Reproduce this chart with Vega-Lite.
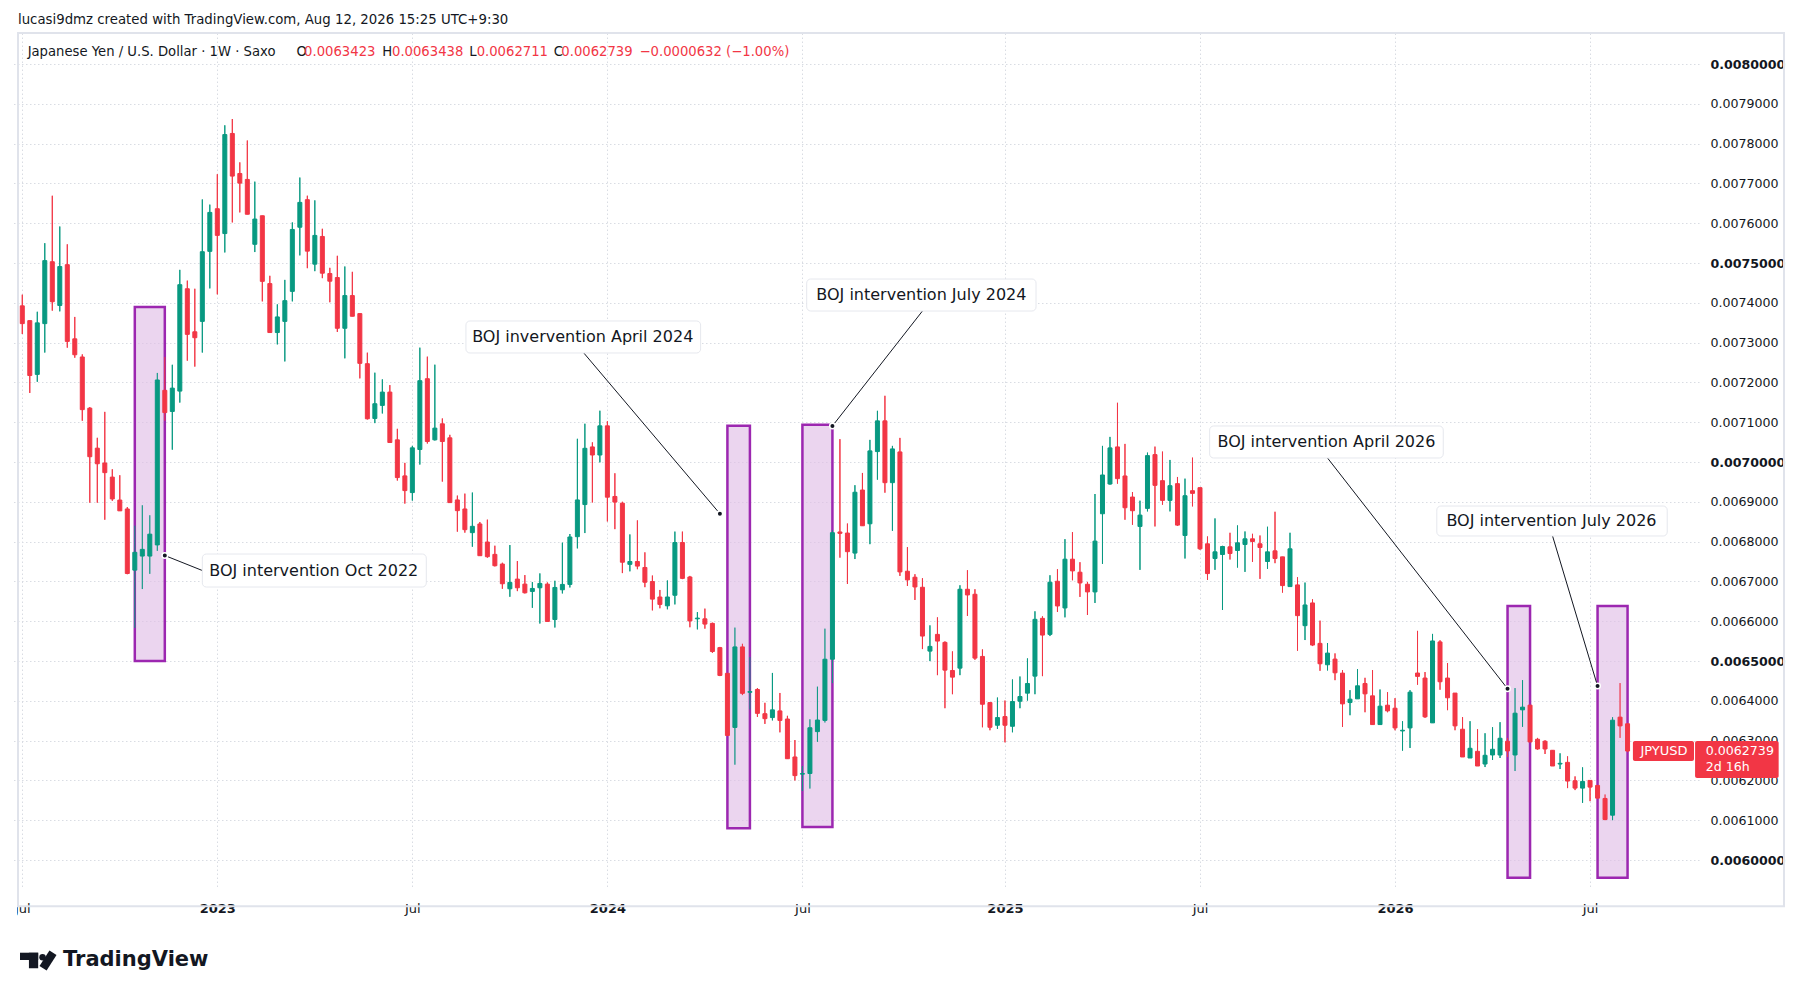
{
  "$schema": "https://vega.github.io/schema/vega-lite/v6.json",
  "description": "JPYUSD weekly candles with BOJ intervention boxes, TradingView style.",
  "width": 1686,
  "height": 854,
  "autosize": {"type": "none"},
  "padding": {"left": 13, "top": 33, "right": 105, "bottom": 113},
  "background": "#ffffff",
  "config": {"view": {"stroke": null}, "font": "DejaVu Sans"},
  "datasets": {
    "candles": [
      {"d":"2022-07-04","o":0.0073924,"h":0.0074204,"l":0.0073216,"c":0.0073477},
      {"d":"2022-07-11","o":0.0073552,"h":0.0073552,"l":0.0071735,"c":0.0072173},
      {"d":"2022-07-18","o":0.0072201,"h":0.0073775,"l":0.0072015,"c":0.0073496},
      {"d":"2022-07-25","o":0.0073477,"h":0.0075498,"l":0.0072750,"c":0.0075060},
      {"d":"2022-08-01","o":0.0075032,"h":0.0076690,"l":0.0073803,"c":0.0074027},
      {"d":"2022-08-08","o":0.0073933,"h":0.0075917,"l":0.0073785,"c":0.0074911},
      {"d":"2022-08-15","o":0.0074958,"h":0.0075470,"l":0.0072872,"c":0.0073030},
      {"d":"2022-08-22","o":0.0073095,"h":0.0073645,"l":0.0072620,"c":0.0072695},
      {"d":"2022-08-29","o":0.0072639,"h":0.0072704,"l":0.0071037,"c":0.0071316},
      {"d":"2022-09-05","o":0.0071353,"h":0.0071381,"l":0.0068978,"c":0.0070133},
      {"d":"2022-09-12","o":0.0070348,"h":0.0070608,"l":0.0068978,"c":0.0069956},
      {"d":"2022-09-19","o":0.0069975,"h":0.0071260,"l":0.0068550,"c":0.0069733},
      {"d":"2022-09-26","o":0.0069621,"h":0.0069817,"l":0.0069025,"c":0.0069072},
      {"d":"2022-10-03","o":0.0069044,"h":0.0069668,"l":0.0068773,"c":0.0068773},
      {"d":"2022-10-10","o":0.0068820,"h":0.0068867,"l":0.0067181,"c":0.0067199},
      {"d":"2022-10-17","o":0.0067283,"h":0.0068401,"l":0.0065830,"c":0.0067731},
      {"d":"2022-10-24","o":0.0067637,"h":0.0068913,"l":0.0066808,"c":0.0067805},
      {"d":"2022-10-31","o":0.0067637,"h":0.0068662,"l":0.0067190,"c":0.0068187},
      {"d":"2022-11-07","o":0.0067917,"h":0.0072238,"l":0.0067768,"c":0.0072061},
      {"d":"2022-11-14","o":0.0071801,"h":0.0072639,"l":0.0071037,"c":0.0071242},
      {"d":"2022-11-21","o":0.0071270,"h":0.0072443,"l":0.0070310,"c":0.0071856},
      {"d":"2022-11-28","o":0.0071782,"h":0.0074828,"l":0.0071493,"c":0.0074455},
      {"d":"2022-12-05","o":0.0074353,"h":0.0074557,"l":0.0072546,"c":0.0073207},
      {"d":"2022-12-12","o":0.0073272,"h":0.0074353,"l":0.0072397,"c":0.0073123},
      {"d":"2022-12-19","o":0.0073533,"h":0.0076597,"l":0.0072750,"c":0.0075284},
      {"d":"2022-12-26","o":0.0075293,"h":0.0076467,"l":0.0074362,"c":0.0076271},
      {"d":"2023-01-02","o":0.0076364,"h":0.0077231,"l":0.0074213,"c":0.0075694},
      {"d":"2023-01-09","o":0.0075740,"h":0.0078460,"l":0.0075265,"c":0.0078227},
      {"d":"2023-01-16","o":0.0078255,"h":0.0078618,"l":0.0076020,"c":0.0077184},
      {"d":"2023-01-23","o":0.0077249,"h":0.0077529,"l":0.0076271,"c":0.0077007},
      {"d":"2023-01-30","o":0.0077100,"h":0.0078078,"l":0.0076225,"c":0.0076225},
      {"d":"2023-02-06","o":0.0075470,"h":0.0077044,"l":0.0075275,"c":0.0076104},
      {"d":"2023-02-13","o":0.0076187,"h":0.0076187,"l":0.0074036,"c":0.0074539},
      {"d":"2023-02-20","o":0.0074483,"h":0.0074679,"l":0.0073253,"c":0.0073253},
      {"d":"2023-02-27","o":0.0073253,"h":0.0073961,"l":0.0072955,"c":0.0073645},
      {"d":"2023-03-06","o":0.0073533,"h":0.0074576,"l":0.0072527,"c":0.0074054},
      {"d":"2023-03-13","o":0.0074287,"h":0.0076020,"l":0.0074036,"c":0.0075843},
      {"d":"2023-03-20","o":0.0075899,"h":0.0077147,"l":0.0075191,"c":0.0076523},
      {"d":"2023-03-27","o":0.0076591,"h":0.0076691,"l":0.0074870,"c":0.0075298},
      {"d":"2023-04-03","o":0.0074971,"h":0.0076574,"l":0.0074795,"c":0.0075693},
      {"d":"2023-04-10","o":0.0075667,"h":0.0075860,"l":0.0074619,"c":0.0074744},
      {"d":"2023-04-17","o":0.0074736,"h":0.0074879,"l":0.0074014,"c":0.0074543},
      {"d":"2023-04-24","o":0.0074635,"h":0.0075181,"l":0.0073268,"c":0.0073360},
      {"d":"2023-05-01","o":0.0073360,"h":0.0074912,"l":0.0072605,"c":0.0074182},
      {"d":"2023-05-08","o":0.0074182,"h":0.0074778,"l":0.0073662,"c":0.0073662},
      {"d":"2023-05-15","o":0.0073729,"h":0.0073729,"l":0.0072101,"c":0.0072479},
      {"d":"2023-05-22","o":0.0072470,"h":0.0072747,"l":0.0071069,"c":0.0071086},
      {"d":"2023-05-29","o":0.0071094,"h":0.0072244,"l":0.0070977,"c":0.0071464},
      {"d":"2023-06-05","o":0.0071422,"h":0.0072076,"l":0.0071220,"c":0.0071757},
      {"d":"2023-06-12","o":0.0071757,"h":0.0071933,"l":0.0070490,"c":0.0070490},
      {"d":"2023-06-19","o":0.0070557,"h":0.0070834,"l":0.0069534,"c":0.0069609},
      {"d":"2023-06-26","o":0.0069651,"h":0.0069978,"l":0.0068955,"c":0.0069282},
      {"d":"2023-07-03","o":0.0069232,"h":0.0070406,"l":0.0069030,"c":0.0070356},
      {"d":"2023-07-10","o":0.0070314,"h":0.0072873,"l":0.0069936,"c":0.0072043},
      {"d":"2023-07-17","o":0.0072093,"h":0.0072647,"l":0.0070465,"c":0.0070515},
      {"d":"2023-07-24","o":0.0070557,"h":0.0072445,"l":0.0070541,"c":0.0070851},
      {"d":"2023-07-31","o":0.0070960,"h":0.0071094,"l":0.0069508,"c":0.0070515},
      {"d":"2023-08-07","o":0.0070608,"h":0.0070683,"l":0.0068980,"c":0.0068980},
      {"d":"2023-08-14","o":0.0069047,"h":0.0069156,"l":0.0068250,"c":0.0068778},
      {"d":"2023-08-21","o":0.0068820,"h":0.0069206,"l":0.0068225,"c":0.0068300},
      {"d":"2023-08-28","o":0.0068225,"h":0.0069232,"l":0.0067872,"c":0.0068384},
      {"d":"2023-09-04","o":0.0068443,"h":0.0068493,"l":0.0067646,"c":0.0067646},
      {"d":"2023-09-11","o":0.0067990,"h":0.0068552,"l":0.0067595,"c":0.0067621},
      {"d":"2023-09-18","o":0.0067679,"h":0.0067897,"l":0.0067377,"c":0.0067394},
      {"d":"2023-09-25","o":0.0067436,"h":0.0067469,"l":0.0066815,"c":0.0066941},
      {"d":"2023-10-02","o":0.0066815,"h":0.0067914,"l":0.0066614,"c":0.0066974},
      {"d":"2023-10-09","o":0.0067058,"h":0.0067511,"l":0.0066756,"c":0.0066840},
      {"d":"2023-10-16","o":0.0066932,"h":0.0067159,"l":0.0066698,"c":0.0066714},
      {"d":"2023-10-23","o":0.0066748,"h":0.0066983,"l":0.0066337,"c":0.0066823},
      {"d":"2023-10-30","o":0.0066840,"h":0.0067201,"l":0.0065942,"c":0.0066949},
      {"d":"2023-11-06","o":0.0066932,"h":0.0066974,"l":0.0065993,"c":0.0065993},
      {"d":"2023-11-13","o":0.0066043,"h":0.0067016,"l":0.0065842,"c":0.0066848},
      {"d":"2023-11-20","o":0.0066790,"h":0.0067973,"l":0.0066698,"c":0.0066924},
      {"d":"2023-11-27","o":0.0066924,"h":0.0068191,"l":0.0066848,"c":0.0068116},
      {"d":"2023-12-04","o":0.0068124,"h":0.0070583,"l":0.0067830,"c":0.0069047},
      {"d":"2023-12-11","o":0.0068931,"h":0.0070962,"l":0.0068215,"c":0.0070344},
      {"d":"2023-12-18","o":0.0070379,"h":0.0070494,"l":0.0068984,"c":0.0070176},
      {"d":"2023-12-25","o":0.0070176,"h":0.0071289,"l":0.0069991,"c":0.0070909},
      {"d":"2024-01-01","o":0.0070909,"h":0.0071024,"l":0.0068507,"c":0.0069116},
      {"d":"2024-01-08","o":0.0069134,"h":0.0069717,"l":0.0068313,"c":0.0068993},
      {"d":"2024-01-15","o":0.0068966,"h":0.0069001,"l":0.0067209,"c":0.0067482},
      {"d":"2024-01-22","o":0.0067429,"h":0.0068180,"l":0.0067253,"c":0.0067500},
      {"d":"2024-01-29","o":0.0067500,"h":0.0068533,"l":0.0067306,"c":0.0067385},
      {"d":"2024-02-05","o":0.0067350,"h":0.0067730,"l":0.0066855,"c":0.0066979},
      {"d":"2024-02-12","o":0.0066997,"h":0.0067147,"l":0.0066272,"c":0.0066555},
      {"d":"2024-02-19","o":0.0066608,"h":0.0066785,"l":0.0066325,"c":0.0066422},
      {"d":"2024-02-26","o":0.0066387,"h":0.0067023,"l":0.0066299,"c":0.0066608},
      {"d":"2024-03-04","o":0.0066652,"h":0.0068251,"l":0.0066422,"c":0.0067977},
      {"d":"2024-03-11","o":0.0067977,"h":0.0068251,"l":0.0067058,"c":0.0067076},
      {"d":"2024-03-18","o":0.0067111,"h":0.0067138,"l":0.0065848,"c":0.0066007},
      {"d":"2024-03-25","o":0.0066060,"h":0.0066228,"l":0.0065795,"c":0.0066078},
      {"d":"2024-04-01","o":0.0066060,"h":0.0066316,"l":0.0065813,"c":0.0065928},
      {"d":"2024-04-08","o":0.0065946,"h":0.0065963,"l":0.0065204,"c":0.0065239},
      {"d":"2024-04-15","o":0.0065336,"h":0.0065354,"l":0.0064621,"c":0.0064638},
      {"d":"2024-04-22","o":0.0064691,"h":0.0064691,"l":0.0063129,"c":0.0063129},
      {"d":"2024-04-29","o":0.0063331,"h":0.0065840,"l":0.0062395,"c":0.0065354},
      {"d":"2024-05-06","o":0.0065354,"h":0.0065433,"l":0.0064144,"c":0.0064188},
      {"d":"2024-05-13","o":0.0064214,"h":0.0065098,"l":0.0063782,"c":0.0064232},
      {"d":"2024-05-20","o":0.0064285,"h":0.0064320,"l":0.0063596,"c":0.0063685},
      {"d":"2024-05-27","o":0.0063676,"h":0.0063950,"l":0.0063420,"c":0.0063552},
      {"d":"2024-06-03","o":0.0063579,"h":0.0064700,"l":0.0063508,"c":0.0063773},
      {"d":"2024-06-10","o":0.0063746,"h":0.0064197,"l":0.0063208,"c":0.0063508},
      {"d":"2024-06-17","o":0.0063543,"h":0.0063623,"l":0.0062545,"c":0.0062545},
      {"d":"2024-06-24","o":0.0062589,"h":0.0063014,"l":0.0061998,"c":0.0062121},
      {"d":"2024-07-01","o":0.0062157,"h":0.0062360,"l":0.0061733,"c":0.0062174},
      {"d":"2024-07-08","o":0.0062174,"h":0.0063535,"l":0.0061795,"c":0.0063323},
      {"d":"2024-07-15","o":0.0063226,"h":0.0064356,"l":0.0062969,"c":0.0063517},
      {"d":"2024-07-22","o":0.0063508,"h":0.0065813,"l":0.0063455,"c":0.0065045},
      {"d":"2024-07-29","o":0.0065045,"h":0.0068286,"l":0.0064444,"c":0.0068224},
      {"d":"2024-08-05","o":0.0068242,"h":0.0070574,"l":0.0067597,"c":0.0068207},
      {"d":"2024-08-12","o":0.0068215,"h":0.0068454,"l":0.0066935,"c":0.0067747},
      {"d":"2024-08-19","o":0.0067712,"h":0.0069417,"l":0.0067562,"c":0.0069240},
      {"d":"2024-08-26","o":0.0069296,"h":0.0069725,"l":0.0068398,"c":0.0068398},
      {"d":"2024-09-02","o":0.0068448,"h":0.0070556,"l":0.0067936,"c":0.0070279},
      {"d":"2024-09-09","o":0.0070262,"h":0.0071286,"l":0.0069557,"c":0.0071034},
      {"d":"2024-09-16","o":0.0071034,"h":0.0071664,"l":0.0069229,"c":0.0069481},
      {"d":"2024-09-23","o":0.0069481,"h":0.0070405,"l":0.0068272,"c":0.0070329},
      {"d":"2024-09-30","o":0.0070253,"h":0.0070606,"l":0.0067138,"c":0.0067239},
      {"d":"2024-10-07","o":0.0067256,"h":0.0067861,"l":0.0066887,"c":0.0067038},
      {"d":"2024-10-14","o":0.0067105,"h":0.0067181,"l":0.0066534,"c":0.0066861},
      {"d":"2024-10-21","o":0.0066853,"h":0.0067080,"l":0.0065300,"c":0.0065627},
      {"d":"2024-10-28","o":0.0065249,"h":0.0065896,"l":0.0064998,"c":0.0065367},
      {"d":"2024-11-04","o":0.0065669,"h":0.0066097,"l":0.0064645,"c":0.0065501},
      {"d":"2024-11-11","o":0.0065468,"h":0.0065493,"l":0.0063814,"c":0.0064771},
      {"d":"2024-11-18","o":0.0064762,"h":0.0065241,"l":0.0064166,"c":0.0064595},
      {"d":"2024-11-25","o":0.0064821,"h":0.0066903,"l":0.0064645,"c":0.0066803},
      {"d":"2024-12-02","o":0.0066803,"h":0.0067281,"l":0.0066131,"c":0.0066660},
      {"d":"2024-12-09","o":0.0066677,"h":0.0066803,"l":0.0065031,"c":0.0065073},
      {"d":"2024-12-16","o":0.0065115,"h":0.0065291,"l":0.0063335,"c":0.0063914},
      {"d":"2024-12-23","o":0.0063956,"h":0.0063956,"l":0.0063260,"c":0.0063335},
      {"d":"2024-12-30","o":0.0063386,"h":0.0064082,"l":0.0063293,"c":0.0063579},
      {"d":"2025-01-06","o":0.0063604,"h":0.0064007,"l":0.0062957,"c":0.0063386},
      {"d":"2025-01-13","o":0.0063360,"h":0.0064536,"l":0.0063209,"c":0.0063982},
      {"d":"2025-01-20","o":0.0063990,"h":0.0064611,"l":0.0063814,"c":0.0064108},
      {"d":"2025-01-27","o":0.0064192,"h":0.0065065,"l":0.0064007,"c":0.0064435},
      {"d":"2025-02-03","o":0.0064620,"h":0.0066249,"l":0.0064166,"c":0.0066047},
      {"d":"2025-02-10","o":0.0066072,"h":0.0066123,"l":0.0064620,"c":0.0065652},
      {"d":"2025-02-17","o":0.0065669,"h":0.0067155,"l":0.0065627,"c":0.0066979},
      {"d":"2025-02-24","o":0.0067004,"h":0.0067306,"l":0.0066232,"c":0.0066383},
      {"d":"2025-03-03","o":0.0066333,"h":0.0068062,"l":0.0066097,"c":0.0067558},
      {"d":"2025-03-10","o":0.0067558,"h":0.0068238,"l":0.0067029,"c":0.0067264},
      {"d":"2025-03-17","o":0.0067231,"h":0.0067483,"l":0.0066610,"c":0.0066962},
      {"d":"2025-03-24","o":0.0066929,"h":0.0066987,"l":0.0066156,"c":0.0066736},
      {"d":"2025-03-31","o":0.0066736,"h":0.0069196,"l":0.0066458,"c":0.0068012},
      {"d":"2025-04-07","o":0.0068700,"h":0.0070405,"l":0.0067441,"c":0.0069674},
      {"d":"2025-04-14","o":0.0069447,"h":0.0070631,"l":0.0069431,"c":0.0070354},
      {"d":"2025-04-21","o":0.0070379,"h":0.0071488,"l":0.0069456,"c":0.0069582},
      {"d":"2025-04-28","o":0.0069649,"h":0.0070455,"l":0.0068549,"c":0.0068851},
      {"d":"2025-05-05","o":0.0069120,"h":0.0069246,"l":0.0068423,"c":0.0068776},
      {"d":"2025-05-12","o":0.0068381,"h":0.0069028,"l":0.0067290,"c":0.0068666},
      {"d":"2025-05-19","o":0.0068834,"h":0.0070236,"l":0.0068759,"c":0.0070161},
      {"d":"2025-05-26","o":0.0070186,"h":0.0070387,"l":0.0068381,"c":0.0069414},
      {"d":"2025-06-02","o":0.0069531,"h":0.0070262,"l":0.0068927,"c":0.0069036},
      {"d":"2025-06-09","o":0.0069036,"h":0.0070052,"l":0.0068759,"c":0.0069405},
      {"d":"2025-06-16","o":0.0069456,"h":0.0069624,"l":0.0068398,"c":0.0068415},
      {"d":"2025-06-23","o":0.0068154,"h":0.0069582,"l":0.0067575,"c":0.0069153},
      {"d":"2025-06-30","o":0.0069279,"h":0.0070110,"l":0.0068885,"c":0.0069212},
      {"d":"2025-07-07","o":0.0069355,"h":0.0069355,"l":0.0067793,"c":0.0067819},
      {"d":"2025-07-14","o":0.0067945,"h":0.0068129,"l":0.0067038,"c":0.0067197},
      {"d":"2025-07-21","o":0.0067575,"h":0.0068583,"l":0.0067290,"c":0.0067743},
      {"d":"2025-07-28","o":0.0067676,"h":0.0067894,"l":0.0066282,"c":0.0067877},
      {"d":"2025-08-04","o":0.0067869,"h":0.0068222,"l":0.0067550,"c":0.0067701},
      {"d":"2025-08-11","o":0.0067777,"h":0.0068406,"l":0.0067348,"c":0.0067970},
      {"d":"2025-08-18","o":0.0067928,"h":0.0068255,"l":0.0067239,"c":0.0068070},
      {"d":"2025-08-25","o":0.0068070,"h":0.0068196,"l":0.0067491,"c":0.0068003},
      {"d":"2025-09-01","o":0.0067945,"h":0.0068154,"l":0.0067063,"c":0.0067852},
      {"d":"2025-09-08","o":0.0067500,"h":0.0068373,"l":0.0067315,"c":0.0067743},
      {"d":"2025-09-15","o":0.0067768,"h":0.0068750,"l":0.0067458,"c":0.0067575},
      {"d":"2025-09-22","o":0.0067617,"h":0.0067617,"l":0.0066719,"c":0.0066895},
      {"d":"2025-09-29","o":0.0066870,"h":0.0068222,"l":0.0066870,"c":0.0067819},
      {"d":"2025-10-06","o":0.0066912,"h":0.0067105,"l":0.0065258,"c":0.0066140},
      {"d":"2025-10-13","o":0.0065888,"h":0.0066971,"l":0.0065527,"c":0.0066408},
      {"d":"2025-10-20","o":0.0066459,"h":0.0066551,"l":0.0065376,"c":0.0065401},
      {"d":"2025-10-27","o":0.0065443,"h":0.0066014,"l":0.0064754,"c":0.0064931},
      {"d":"2025-11-03","o":0.0064906,"h":0.0065451,"l":0.0064763,"c":0.0065199},
      {"d":"2025-11-10","o":0.0065048,"h":0.0065191,"l":0.0064519,"c":0.0064704},
      {"d":"2025-11-17","o":0.0064696,"h":0.0064771,"l":0.0063344,"c":0.0063923},
      {"d":"2025-11-24","o":0.0063957,"h":0.0064267,"l":0.0063638,"c":0.0064041},
      {"d":"2025-12-01","o":0.0064049,"h":0.0064796,"l":0.0064049,"c":0.0064377},
      {"d":"2025-12-08","o":0.0064435,"h":0.0064578,"l":0.0063713,"c":0.0064175},
      {"d":"2025-12-15","o":0.0064125,"h":0.0064771,"l":0.0063403,"c":0.0063403},
      {"d":"2025-12-22","o":0.0063403,"h":0.0064284,"l":0.0063403,"c":0.0063865},
      {"d":"2025-12-29","o":0.0063890,"h":0.0064217,"l":0.0063713,"c":0.0063747},
      {"d":"2026-01-05","o":0.0063814,"h":0.0064066,"l":0.0063260,"c":0.0063319},
      {"d":"2026-01-12","o":0.0063243,"h":0.0063487,"l":0.0062748,"c":0.0063260},
      {"d":"2026-01-19","o":0.0063319,"h":0.0064267,"l":0.0062815,"c":0.0064217},
      {"d":"2026-01-26","o":0.0064698,"h":0.0065757,"l":0.0064404,"c":0.0064614},
      {"d":"2026-02-02","o":0.0064572,"h":0.0064723,"l":0.0063572,"c":0.0063597},
      {"d":"2026-02-09","o":0.0063446,"h":0.0065681,"l":0.0063446,"c":0.0065504},
      {"d":"2026-02-16","o":0.0065479,"h":0.0065521,"l":0.0064278,"c":0.0064479},
      {"d":"2026-02-23","o":0.0064572,"h":0.0064950,"l":0.0063765,"c":0.0064076},
      {"d":"2026-03-02","o":0.0064194,"h":0.0064194,"l":0.0063261,"c":0.0063370},
      {"d":"2026-03-09","o":0.0063286,"h":0.0063589,"l":0.0062589,"c":0.0062589},
      {"d":"2026-03-16","o":0.0062563,"h":0.0063488,"l":0.0062563,"c":0.0062807},
      {"d":"2026-03-23","o":0.0062731,"h":0.0063286,"l":0.0062362,"c":0.0062362},
      {"d":"2026-03-30","o":0.0062412,"h":0.0063185,"l":0.0062336,"c":0.0062631},
      {"d":"2026-04-06","o":0.0062639,"h":0.0063336,"l":0.0062513,"c":0.0062782},
      {"d":"2026-04-13","o":0.0062639,"h":0.0063463,"l":0.0062563,"c":0.0063059},
      {"d":"2026-04-20","o":0.0062984,"h":0.0063068,"l":0.0062589,"c":0.0062740},
      {"d":"2026-04-27","o":0.0062639,"h":0.0064320,"l":0.0062236,"c":0.0063689},
      {"d":"2026-05-04","o":0.0063773,"h":0.0064521,"l":0.0063345,"c":0.0063841},
      {"d":"2026-05-11","o":0.0063891,"h":0.0063891,"l":0.0062967,"c":0.0062967},
      {"d":"2026-05-18","o":0.0063034,"h":0.0063068,"l":0.0062773,"c":0.0062790},
      {"d":"2026-05-25","o":0.0062984,"h":0.0063009,"l":0.0062664,"c":0.0062790},
      {"d":"2026-06-01","o":0.0062757,"h":0.0062757,"l":0.0062362,"c":0.0062362},
      {"d":"2026-06-08","o":0.0062412,"h":0.0062681,"l":0.0062286,"c":0.0062429},
      {"d":"2026-06-15","o":0.0062454,"h":0.0062605,"l":0.0061807,"c":0.0061984},
      {"d":"2026-06-22","o":0.0061992,"h":0.0062101,"l":0.0061757,"c":0.0061807},
      {"d":"2026-06-29","o":0.0061807,"h":0.0062328,"l":0.0061437,"c":0.0061975},
      {"d":"2026-07-06","o":0.0062000,"h":0.0062000,"l":0.0061479,"c":0.0061832},
      {"d":"2026-07-13","o":0.0061874,"h":0.0061874,"l":0.0061538,"c":0.0061555},
      {"d":"2026-07-20","o":0.0061547,"h":0.0061647,"l":0.0061000,"c":0.0061017},
      {"d":"2026-07-27","o":0.0061126,"h":0.0063589,"l":0.0061000,"c":0.0063513},
      {"d":"2026-08-03","o":0.0063589,"h":0.0064446,"l":0.0063068,"c":0.0063370},
      {"d":"2026-08-10","o":0.0063423,"h":0.0063438,"l":0.0062711,"c":0.0062739}
    ],
    "boxes": [
      {"x1":"2022-10-17","x2":"2022-11-14","y1":0.0073894,"y2":0.0065001},
      {"x1":"2024-04-22","x2":"2024-05-13","y1":0.0070909,"y2":0.0060796},
      {"x1":"2024-07-01","x2":"2024-07-29","y1":0.0070936,"y2":0.0060832},
      {"x1":"2026-04-20","x2":"2026-05-11","y1":0.0066382,"y2":0.0059556},
      {"x1":"2026-07-13","x2":"2026-08-10","y1":0.0066382,"y2":0.0059556}
    ],
    "labels": [
      {"t":"BOJ intervention Oct 2022","tx":"2023-04-02","ty":0.0067274,"x1":"2022-12-19","x2":"2023-07-16","y1":0.0067688,"y2":0.0066859},
      {"t":"BOJ invervention April 2024","tx":"2023-12-09","ty":0.0073141,"x1":"2023-08-22","x2":"2024-03-28","y1":0.0073543,"y2":0.0072739},
      {"t":"BOJ intervention July 2024","tx":"2024-10-20","ty":0.0074196,"x1":"2024-07-05","x2":"2025-02-04","y1":0.0074598,"y2":0.0073794},
      {"t":"BOJ intervention April 2026","tx":"2025-11-02","ty":0.0070503,"x1":"2025-07-16","x2":"2026-02-19","y1":0.0070905,"y2":0.0070101},
      {"t":"BOJ intervention July 2026","tx":"2026-05-31","ty":0.0068518,"x1":"2026-02-13","x2":"2026-09-16","y1":0.0068894,"y2":0.0068141}
    ],
    "pointers": [
      {"x1":"2022-12-19","y1":0.0067274,"x2":"2022-11-14","y2":0.0067651},
      {"x1":"2023-12-10","y1":0.0072739,"x2":"2024-04-15","y2":0.0068701},
      {"x1":"2024-10-21","y1":0.0073794,"x2":"2024-07-29","y2":0.0070905},
      {"x1":"2025-11-03","y1":0.0070101,"x2":"2026-04-20","y2":0.0064304},
      {"x1":"2026-06-01","y1":0.0068141,"x2":"2026-07-13","y2":0.0064372}
    ]
  },
  "layer": [
    {
      "data": {"name": "candles"},
      "mark": {"type": "rule", "strokeWidth": 1},
      "encoding": {
        "x": {
          "field": "d", "type": "temporal", "title": null,
          "scale": {"type": "utc", "domain": [{"year": 2022, "month": 6, "date": 30, "utc": true}, {"year": 2026, "month": 10, "date": 11, "utc": true}]},
          "axis": {
            "title": null, "zindex": 0,
            "values": [
              {"year": 2022, "month": 7, "date": 4, "utc": true},
              {"year": 2023, "month": 1, "date": 2, "utc": true},
              {"year": 2023, "month": 7, "date": 3, "utc": true},
              {"year": 2024, "month": 1, "date": 1, "utc": true},
              {"year": 2024, "month": 7, "date": 1, "utc": true},
              {"year": 2025, "month": 1, "date": 6, "utc": true},
              {"year": 2025, "month": 7, "date": 7, "utc": true},
              {"year": 2026, "month": 1, "date": 5, "utc": true},
              {"year": 2026, "month": 7, "date": 6, "utc": true}
            ],
            "labelExpr": "utcmonth(datum.value) == 0 ? utcFormat(datum.value, '%Y') : 'Jul'",
            "labelFontWeight": {"condition": {"test": "utcmonth(datum.value) == 0", "value": "bold"}, "value": "normal"},
            "labelFont": "DejaVu Sans", "labelFontSize": 13, "labelColor": "#131722",
            "labelBaseline": "middle", "labelPadding": 21, "labelFlush": false, "labelOverlap": false,
            "domain": false, "ticks": false, "tickSize": 0,
            "grid": true, "gridColor": "#D9DCE3", "gridDash": [1.5, 2.5], "gridWidth": 1
          }
        },
        "y": {
          "field": "l", "type": "quantitative", "title": null,
          "scale": {"domain": [0.0059322, 0.0080779], "zero": false, "nice": false},
          "axis": {
            "title": null, "zindex": 0, "orient": "right",
            "values": [0.006, 0.0061, 0.0062, 0.0063, 0.0064, 0.0065, 0.0066, 0.0067, 0.0068, 0.0069, 0.007, 0.0071, 0.0072, 0.0073, 0.0074, 0.0075, 0.0076, 0.0077, 0.0078, 0.0079, 0.008],
            "format": ".7f",
            "labelFontWeight": {"condition": {"test": "round(datum.value * 10000) % 5 == 0", "value": "bold"}, "value": "normal"},
            "labelFont": "DejaVu Sans", "labelFontSize": 12.6, "labelColor": "#131722",
            "labelPadding": 11, "domain": false, "ticks": false, "tickSize": 0,
            "grid": true, "gridColor": "#D9DCE3", "gridDash": [1.5, 2.5], "gridWidth": 1
          }
        },
        "y2": {"field": "h"},
        "color": {"condition": {"test": "datum.c >= datum.o", "value": "#089981"}, "value": "#F23645"}
      }
    },
    {
      "data": {"values": [{"x1":"2022-06-30","x2":"2027-01-03","y1":0.0080779,"y2":0.0058837}]},
      "mark": {"type": "rect", "fill": null, "stroke": "#E0E3EB", "strokeWidth": 2},
      "encoding": {
        "x": {"field": "x1", "type": "temporal", "title": null},
        "x2": {"field": "x2"},
        "y": {"field": "y1", "type": "quantitative", "title": null},
        "y2": {"field": "y2"}
      }
    },
    {
      "data": {"values": [{"x1":"2022-06-15","x2":"2022-06-29T01:00:00Z","y1":0.0059121,"y2":0.0058468}]},
      "mark": {"type": "rect", "fill": "#ffffff"},
      "encoding": {
        "x": {"field": "x1", "type": "temporal", "title": null},
        "x2": {"field": "x2"},
        "y": {"field": "y1", "type": "quantitative", "title": null},
        "y2": {"field": "y2"}
      }
    },
    {
      "data": {"name": "boxes"},
      "mark": {"type": "rect", "fill": "#E1BEE7", "fillOpacity": 0.65, "stroke": "#9C27B0", "strokeWidth": 2.5},
      "encoding": {
        "x": {"field": "x1", "type": "temporal", "title": null},
        "x2": {"field": "x2"},
        "y": {"field": "y1", "type": "quantitative", "title": null},
        "y2": {"field": "y2"}
      }
    },
    {
      "mark": {"type": "rule", "color": "#F23645", "strokeWidth": 1, "strokeDash": [1.5, 2.5]},
      "encoding": {"y": {"datum": 0.0062739, "type": "quantitative", "title": null}}
    },
    {
      "data": {"name": "candles"},
      "mark": {"type": "rule", "strokeWidth": 1},
      "encoding": {
        "x": {"field": "d", "type": "temporal", "title": null},
        "y": {"field": "l", "type": "quantitative", "title": null},
        "y2": {"field": "h"},
        "color": {"condition": {"test": "datum.c >= datum.o", "value": "#089981"}, "value": "#F23645"}
      }
    },
    {
      "data": {"name": "candles"},
      "mark": {"type": "bar", "width": 4, "strokeWidth": 1},
      "encoding": {
        "x": {"field": "d", "type": "temporal", "title": null},
        "y": {"field": "o", "type": "quantitative", "title": null},
        "y2": {"field": "c"},
        "fill": {"condition": {"test": "datum.c >= datum.o", "value": "#089981"}, "value": "#F23645"},
        "stroke": {"condition": {"test": "datum.c >= datum.o", "value": "#089981"}, "value": "#F23645"}
      }
    },
    {
      "data": {"name": "pointers"},
      "mark": {"type": "rule", "color": "#131722", "strokeWidth": 1},
      "encoding": {
        "x": {"field": "x1", "type": "temporal", "title": null},
        "x2": {"field": "x2"},
        "y": {"field": "y1", "type": "quantitative", "title": null},
        "y2": {"field": "y2"}
      }
    },
    {
      "data": {"name": "pointers"},
      "mark": {"type": "point", "filled": true, "size": 30, "fill": "#131722", "stroke": "#ffffff", "strokeWidth": 1.5, "opacity": 1},
      "encoding": {
        "x": {"field": "x2", "type": "temporal", "title": null},
        "y": {"field": "y2", "type": "quantitative", "title": null}
      }
    },
    {
      "data": {"name": "labels"},
      "mark": {"type": "rect", "fill": "#000000", "opacity": 0.08, "cornerRadius": 5, "yOffset": 2},
      "encoding": {
        "x": {"field": "x1", "type": "temporal", "title": null},
        "x2": {"field": "x2"},
        "y": {"field": "y1", "type": "quantitative", "title": null},
        "y2": {"field": "y2"}
      }
    },
    {
      "data": {"name": "labels"},
      "mark": {"type": "rect", "fill": "#ffffff", "stroke": "#E6E8EE", "strokeWidth": 1, "cornerRadius": 4},
      "encoding": {
        "x": {"field": "x1", "type": "temporal", "title": null},
        "x2": {"field": "x2"},
        "y": {"field": "y1", "type": "quantitative", "title": null},
        "y2": {"field": "y2"}
      }
    },
    {
      "data": {"name": "labels"},
      "mark": {"type": "text", "font": "DejaVu Sans", "fontSize": 16, "color": "#131722", "align": "center", "baseline": "middle"},
      "encoding": {
        "x": {"field": "tx", "type": "temporal", "title": null},
        "y": {"field": "ty", "type": "quantitative", "title": null},
        "text": {"field": "t"}
      }
    },
    {
      "data": {"values": [
        {"t": "Japanese Yen / U.S. Dollar · 1W · Saxo", "x": "2022-07-09", "part": "name"},
        {"t": "O", "x": "2023-03-17", "part": "name"},
        {"t": "0.0063423", "x": "2023-03-24", "part": "value"},
        {"t": "H", "x": "2023-06-05", "part": "name"},
        {"t": "0.0063438", "x": "2023-06-14", "part": "value"},
        {"t": "L", "x": "2023-08-25", "part": "name"},
        {"t": "0.0062711", "x": "2023-09-01", "part": "value"},
        {"t": "C", "x": "2023-11-12", "part": "name"},
        {"t": "0.0062739", "x": "2023-11-19", "part": "value"},
        {"t": "−0.0000632 (−1.00%)", "x": "2024-01-31", "part": "value"}
      ]},
      "mark": {"type": "text", "font": "DejaVu Sans", "fontSize": 13.2, "align": "left", "baseline": "middle"},
      "encoding": {
        "x": {"field": "x", "type": "temporal", "title": null},
        "y": {"datum": 0.0080309, "type": "quantitative", "title": null},
        "text": {"field": "t"},
        "color": {"condition": {"test": "datum.part == 'value'", "value": "#F23645"}, "value": "#131722"}
      }
    },
    {
      "data": {"values": [{"t": "lucasi9dmz created with TradingView.com, Aug 12, 2026 15:25 UTC+9:30", "x": "2022-06-30", "y": 0.0081106}]},
      "mark": {"type": "text", "font": "DejaVu Sans", "fontSize": 13.3, "color": "#131722", "align": "left", "baseline": "middle"},
      "encoding": {
        "x": {"field": "x", "type": "temporal", "title": null},
        "y": {"field": "y", "type": "quantitative", "title": null},
        "text": {"field": "t"}
      }
    },
    {
      "data": {"values": [
        {"x1": "2026-08-15", "x2": "2026-10-11", "y1": 0.0062990, "y2": 0.0062487},
        {"x1": "2026-10-12", "x2": "2026-12-29", "y1": 0.0062990, "y2": 0.0062060}
      ]},
      "mark": {"type": "rect", "fill": "#F23645", "cornerRadius": 2},
      "encoding": {
        "x": {"field": "x1", "type": "temporal", "title": null},
        "x2": {"field": "x2"},
        "y": {"field": "y1", "type": "quantitative", "title": null},
        "y2": {"field": "y2"}
      }
    },
    {
      "data": {"values": [{"t": "JPYUSD", "x": "2026-09-13", "y": 0.0062739}]},
      "mark": {"type": "text", "font": "DejaVu Sans", "fontSize": 13, "color": "#ffffff", "align": "center", "baseline": "middle"},
      "encoding": {
        "x": {"field": "x", "type": "temporal", "title": null},
        "y": {"field": "y", "type": "quantitative", "title": null},
        "text": {"field": "t"}
      }
    },
    {
      "data": {"values": [
        {"t": "0.0062739", "x": "2026-10-22", "y": 0.0062739},
        {"t": "2d 16h", "x": "2026-10-22", "y": 0.0062337}
      ]},
      "mark": {"type": "text", "font": "DejaVu Sans", "fontSize": 12.6, "color": "#ffffff", "align": "left", "baseline": "middle"},
      "encoding": {
        "x": {"field": "x", "type": "temporal", "title": null},
        "y": {"field": "y", "type": "quantitative", "title": null},
        "text": {"field": "t"}
      }
    },
    {
      "data": {"values": [
        {"x1": "2022-07-01T20:31:00Z", "x2": "2022-07-18T19:56:00Z", "y1": 0.0057671, "y2": 0.0057488},
        {"x1": "2022-07-10T04:54:00Z", "x2": "2022-07-18T19:56:00Z", "y1": 0.0057671, "y2": 0.0057279}
      ]},
      "mark": {"type": "rect", "fill": "#131722"},
      "encoding": {
        "x": {"field": "x1", "type": "temporal", "title": null},
        "x2": {"field": "x2"},
        "y": {"field": "y1", "type": "quantitative", "title": null},
        "y2": {"field": "y2"}
      }
    },
    {
      "data": {"values": [{"x": "2022-07-22T21:50:00Z", "y": 0.0057556}]},
      "mark": {"type": "point", "filled": true, "size": 42, "fill": "#131722", "opacity": 1},
      "encoding": {
        "x": {"field": "x", "type": "temporal", "title": null},
        "y": {"field": "y", "type": "quantitative", "title": null}
      }
    },
    {
      "data": {"values": [{"x1": "2022-08-01T15:36:00Z", "y1": 0.0057671, "x2": "2022-07-23T09:07:00Z", "y2": 0.0057279}]},
      "mark": {"type": "rule", "color": "#131722", "strokeWidth": 8.4},
      "encoding": {
        "x": {"field": "x1", "type": "temporal", "title": null},
        "x2": {"field": "x2"},
        "y": {"field": "y1", "type": "quantitative", "title": null},
        "y2": {"field": "y2"}
      }
    },
    {
      "data": {"values": [{"t": "TradingView", "x": "2022-08-11", "y": 0.0057488}]},
      "mark": {"type": "text", "font": "DejaVu Sans", "fontSize": 21, "fontWeight": "bold", "color": "#131722", "align": "left", "baseline": "middle"},
      "encoding": {
        "x": {"field": "x", "type": "temporal", "title": null},
        "y": {"field": "y", "type": "quantitative", "title": null},
        "text": {"field": "t"}
      }
    }
  ]
}
